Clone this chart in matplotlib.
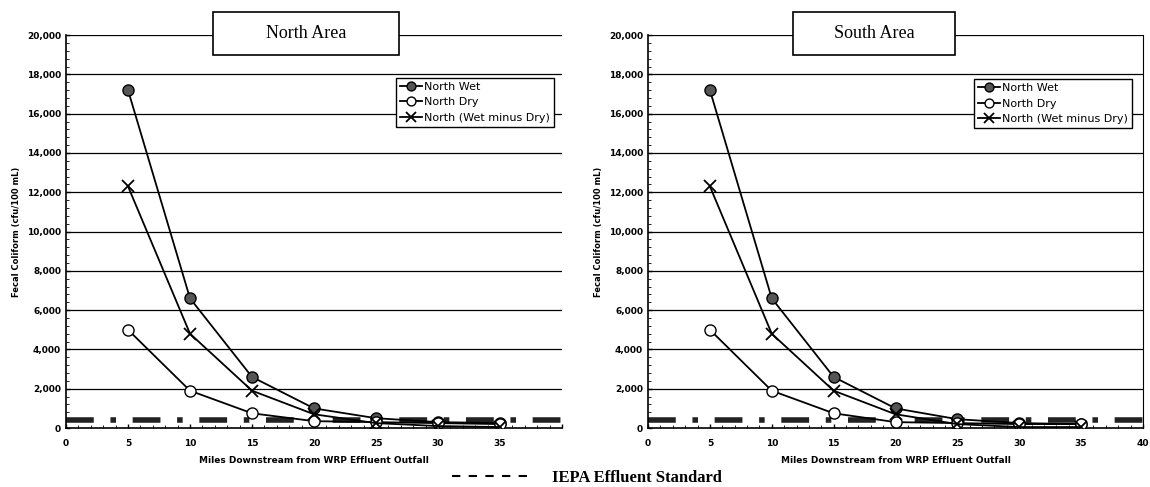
import matplotlib.pyplot as plt
from matplotlib.lines import Line2D
from matplotlib.patches import Rectangle
from matplotlib.ticker import MultipleLocator, FuncFormatter

miles = [5, 10, 15, 20, 25, 30, 35]

north_wet = [17200, 6600, 2600, 1000, 500, 300, 250]
north_dry = [5000, 1900, 750, 350, 300, 250, 200]
north_diff = [12300, 4800, 1900, 700, 250, 100, 50]

south_wet = [17200, 6600, 2600, 1000, 450, 250, 200]
south_dry = [5000, 1900, 750, 300, 250, 200, 200]
south_diff = [12300, 4800, 1900, 700, 200, 50, 50]

iepa_standard = 400
panel_titles = ["North Area", "South Area"]
series_labels = ["North Wet", "North Dry", "North (Wet minus Dry)"]
xlabel = "Miles Downstream from WRP Effluent Outfall"
ylabel = "Fecal Coliform (cfu/100 mL)"

fig = plt.figure(figsize=(11.5, 4.87), dpi=100)
ax1 = fig.add_axes([0.0574, 0.1211, 0.4313, 0.8069])
ax2 = fig.add_axes([0.5635, 0.1211, 0.4304, 0.8069])

panels = [
    (ax1, north_wet, north_dry, north_diff, 0.484, 0.375, 0.984, 0.891),
    (ax2, south_wet, south_dry, south_diff, 0.457, 0.328, 0.978, 0.888),
]

for i, (ax, wet, dry, diff, tx, bw, lx, ly) in enumerate(panels):
    ax.set_xlim(0, 40)
    ax.set_ylim(0, 20000)
    for y in range(2000, 20001, 2000):
        ax.axhline(y, color="black", lw=0.9, zorder=1)

    ax.plot([0, 40], [iepa_standard, iepa_standard], color="#222222", lw=4,
            linestyle=(0, (5, 3, 1, 3)), zorder=2)

    ax.plot(miles, wet, color="black", lw=1.3, marker="o", ms=8,
            mfc="#555555", mec="black", label=series_labels[0], zorder=4)
    ax.plot(miles, dry, color="black", lw=1.3, marker="o", ms=8,
            mfc="white", mec="black", label=series_labels[1], zorder=4)
    ax.plot(miles, diff, color="black", lw=1.3, marker="x", ms=9,
            mew=1.3, label=series_labels[2], zorder=4)

    ax.xaxis.set_major_locator(MultipleLocator(5))
    ax.xaxis.set_minor_locator(MultipleLocator(1))
    ax.yaxis.set_major_locator(MultipleLocator(2000))
    ax.yaxis.set_minor_locator(MultipleLocator(400))
    ax.yaxis.set_major_formatter(FuncFormatter(lambda v, p: f"{int(v):,}"))
    if i == 0:
        ax.xaxis.set_major_formatter(
            FuncFormatter(lambda v, p: "" if v >= 40 else f"{int(v)}"))
    ax.tick_params(axis="both", which="major", labelsize=6.5, length=3,
                   direction="in", width=1)
    ax.tick_params(axis="both", which="minor", length=2, direction="in")
    for t in ax.get_xticklabels() + ax.get_yticklabels():
        t.set_fontweight("bold")
    ax.tick_params(axis="x", pad=8)

    ax.spines["top"].set_visible(False)
    ax.spines["right"].set_visible(i == 1)
    ax.spines["left"].set_linewidth(1.2)
    ax.spines["bottom"].set_linewidth(1.2)

    ax.set_xlabel(xlabel, fontsize=6.5, fontweight="bold", labelpad=6)
    ax.set_ylabel(ylabel, fontsize=6, fontweight="bold", labelpad=4)

    ax.add_patch(Rectangle((tx - bw / 2, 0.95), bw, 0.109,
                           transform=ax.transAxes, facecolor="white",
                           edgecolor="black", lw=1.2, clip_on=False, zorder=6))
    ax.text(tx, 1.005, panel_titles[i], transform=ax.transAxes,
            ha="center", va="center", fontsize=13, family="Liberation Serif",
            zorder=7)

    leg = ax.legend(loc="upper right", bbox_to_anchor=(lx, ly), fontsize=8,
                    handlelength=2.0, handletextpad=0.2, borderpad=0.35,
                    labelspacing=0.5, borderaxespad=0, fancybox=False,
                    framealpha=1, edgecolor="black", markerscale=0.8)
    leg.get_frame().set_linewidth(1.0)
    leg.set_zorder(8)

handle = Line2D([], [], color="black", lw=1.5, linestyle=(0, (4, 4)))
fig.legend([handle], ["IEPA Effluent Standard"], loc="center",
           bbox_to_anchor=(0.51, 0.018), frameon=False, handlelength=5,
           handletextpad=1.0,
           prop={"family": "Liberation Serif", "weight": "bold", "size": 12})

fig.savefig("out.png", dpi=100)
